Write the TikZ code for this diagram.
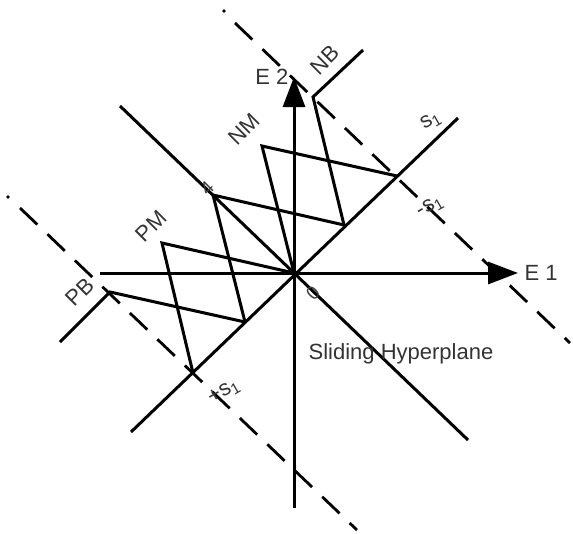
\documentclass[tikz,border=0pt]{standalone}
\usepackage{fontspec}
\setmainfont{Liberation Sans}
\usetikzlibrary{arrows.meta}
\begin{document}
\begin{tikzpicture}[x=1pt,y=-1pt,line width=3pt,
  lbl/.style={text=black!80,font=\fontsize{22}{25}\selectfont,inner sep=0pt},
  slbl/.style={text=black!80,font=\fontsize{22}{25}\selectfont,inner sep=0pt,rotate=30},
  tinylbl/.style={text=black!75,font=\fontsize{19}{21}\selectfont,inner sep=0pt,rotate=45},
  bound/.style={dash pattern=on 24pt off 14pt,line width=2.8pt},
  axis/.style={-{Triangle[length=30pt,width=22pt]}}]
\useasboundingbox (0,0) rectangle (573,533);
% Points of the phase plane
\coordinate (O) at (294,273);
\coordinate (xl) at (100,273);
\coordinate (xr) at (518,273);
\coordinate (yb) at (294,508);
\coordinate (yt) at (294,77);
\coordinate (hypA) at (120,106);
\coordinate (hypB) at (468,440);
\coordinate (sA) at (131,432);
\coordinate (sB) at (458,118);
\coordinate (nbEnd) at (363,50);
\coordinate (nbCorner) at (313,97);
\coordinate (nbFoot) at (344,225);
\coordinate (nmCorner) at (262,146);
\coordinate (nmFoot) at (397,176);
\coordinate (zPt) at (213,195);
\coordinate (pmCorner) at (162,243);
\coordinate (pmFoot) at (193,373);
\coordinate (pbCorner) at (110,292);
\coordinate (pbEnd) at (60,342);
\coordinate (pbFoot) at (245,322);
% Draw axes
\draw[axis] (xl) -- (xr) node[lbl,right=5pt] (e1) {E 1};
\draw[axis] (yb) -- (yt) node[lbl,left=4pt] (e2) {E 2};
% Draw sliding hyperplane and s1 line
\draw (hypA) -- (hypB);
\draw (sA) -- (sB);
% Draw dashed boundary lines
\fill (224,11) circle (1.8pt);
\draw[bound] (235,23) -- (570,343);
\fill (8,197) circle (1.8pt);
\draw[bound] (20,208) -- (357,530);
% Draw zigzag switching lines
\draw (nbEnd) -- (nbCorner) -- (nbFoot);
\draw (nmFoot) -- (nmCorner) -- (O);
\draw (nbFoot) -- (zPt) -- (pbFoot);
\draw (O) -- (pmCorner) -- (pmFoot);
\draw (pbFoot) -- (pbCorner) -- (pbEnd);
% Labels
\node[lbl,rotate=45] (nb) at (325,60) {NB};
\node[lbl,rotate=45] (nm) at (244,129) {NM};
\node[lbl,rotate=45] (pm) at (151,226) {PM};
\node[lbl,rotate=45] (pb) at (80,292) {PB};
\node[slbl] (s1) at (431,121) {s\textsubscript{1}};
\node[slbl] (ms1) at (430,207) {-s\textsubscript{1}};
\node[slbl] (ps1) at (224,392) {+s\textsubscript{1}};
\node[lbl] (hyp) at (401,354) {Sliding Hyperplane};
\node[tinylbl] (zero) at (313,293) {0};
\node[tinylbl] (four) at (207,188) {4};
\end{tikzpicture}
\end{document}
